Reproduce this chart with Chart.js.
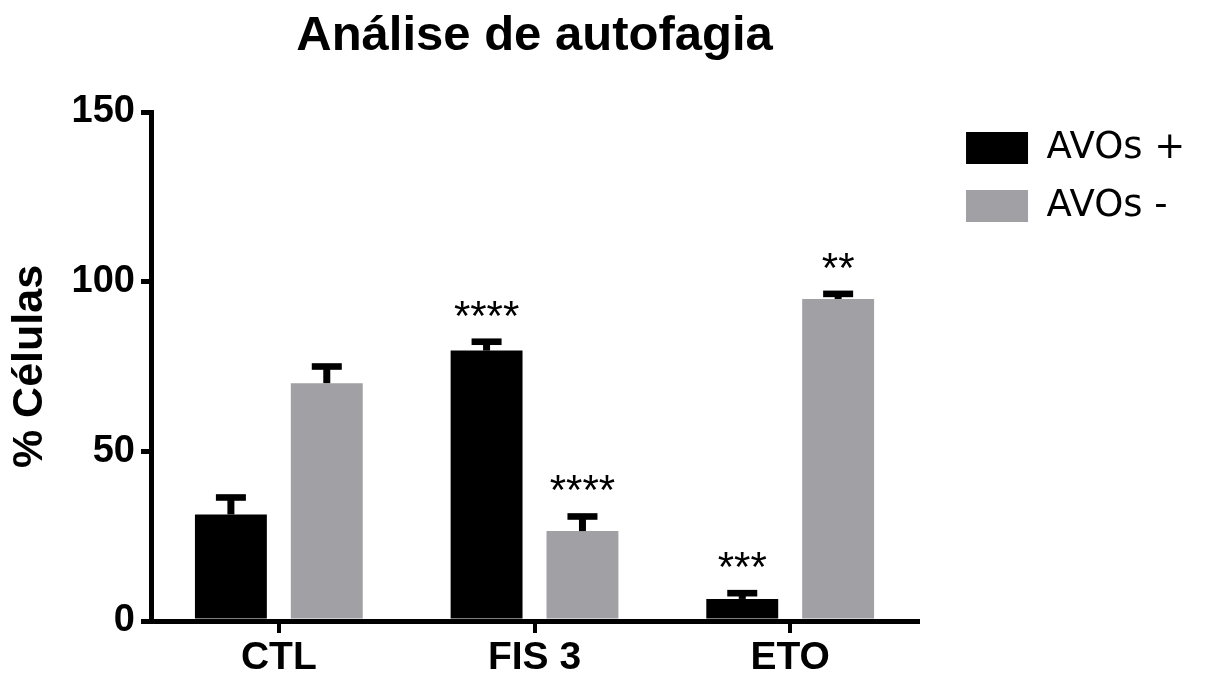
<!DOCTYPE html>
<html>
<head>
<meta charset="utf-8">
<script src="https://cdn.jsdelivr.net/npm/chart.js@4"></script>
<style>
  html, body { margin: 0; padding: 0; background: #ffffff; }
  #wrap { width: 1206px; height: 677px; position: relative; }
</style>
</head>
<body>
<div id="wrap"><canvas id="c" width="1206" height="677"></canvas></div>
<script>
// ---- data ----
const categories = ['CTL', 'FIS 3', 'ETO'];
const seriesNames = ['AVOs +', 'AVOs -'];
const avosPos = [31.4, 79.7, 6.5];
const avosPosErr = [5.0, 2.6, 1.7];
const avosNeg = [70.1, 26.5, 94.9];
const avosNegErr = [4.9, 4.3, 1.5];
const avosPosStars = ['', '****', '***'];
const avosNegStars = ['', '****', '**'];
const yMin = 0, yMax = 150, yStep = 50;
const chartTitle = 'Análise de autofagia';
const yTitle = '% Células';

const FONT = "'Liberation Sans', Arial, sans-serif";
const errs = [avosPosErr, avosNegErr];
const stars = [avosPosStars, avosNegStars];

const errorBarPlugin = {
  id: 'errorBars',
  afterDatasetsDraw(chart) {
    const ctx = chart.ctx;
    const yScale = chart.scales.y;
    ctx.save();
    chart.data.datasets.forEach((ds, i) => {
      const meta = chart.getDatasetMeta(i);
      meta.data.forEach((el, j) => {
        const v = ds.data[j];
        const e = errs[i][j];
        const capY = yScale.getPixelForValue(v + e);
        ctx.fillStyle = '#000';
        // stem
        ctx.fillRect(el.x - 3.5, capY, 7, el.y - capY);
        // cap
        ctx.fillRect(el.x - 15, capY - 3.3, 30, 6.6);
        const s = stars[i][j];
        if (s) {
          ctx.font = '42px ' + FONT;
          ctx.textAlign = 'center';
          ctx.textBaseline = 'alphabetic';
          ctx.fillText(s, el.x, capY - 12);
        }
      });
    });
    ctx.restore();
  }
};

new Chart(document.getElementById('c'), {
  type: 'bar',
  data: {
    labels: categories,
    datasets: [
      { label: seriesNames[0], data: avosPos, backgroundColor: '#000000', borderWidth: 0 },
      { label: seriesNames[1], data: avosNeg, backgroundColor: '#a1a0a5', borderWidth: 0 }
    ]
  },
  options: {
    responsive: false,
    animation: false,
    devicePixelRatio: 1,
    categoryPercentage: 0.75,
    barPercentage: 0.75,
    layout: { padding: { left: 0, right: 10.7, top: 0, bottom: 0 } },
    plugins: {
      title: {
        display: true,
        text: chartTitle,
        fullSize: false,
        color: '#000',
        font: { family: FONT, size: 49, weight: 'bold', lineHeight: 1.2 },
        padding: { top: 7.5, bottom: 45.7 }
      },
      legend: {
        display: true,
        position: 'right',
        align: 'start',
        fullSize: true,
        maxWidth: 320,
        title: { display: true, text: ' ', font: { size: 10, lineHeight: 1 }, padding: { top: 98.5, bottom: 0 } },
        labels: {
          boxWidth: 62,
          boxHeight: 32,
          padding: 21,
          color: '#000',
          font: { family: "'DejaVu Sans', sans-serif", size: 37 }
        }
      },
      tooltip: { enabled: false }
    },
    scales: {
      x: {
        grid: { offset: false, drawOnChartArea: false, drawTicks: true, tickLength: 12, lineWidth: 4, color: '#000' },
        border: { display: true, width: 5, color: '#000' },
        ticks: { color: '#000', padding: 5, font: { family: FONT, size: 39, weight: 'bold', lineHeight: 1.05 }, maxRotation: 0 },
        afterFit(s) { s.height = 56; }
      },
      y: {
        min: yMin, max: yMax,
        grid: { drawOnChartArea: false, drawTicks: true, tickLength: 10, lineWidth: 5, color: '#000' },
        border: { display: true, width: 5, color: '#000' },
        ticks: { stepSize: yStep, color: '#000', padding: 6, font: { family: FONT, size: 38, weight: 'bold' } },
        title: { display: true, text: yTitle, color: '#000', font: { family: FONT, size: 43, weight: 'bold', lineHeight: 1.2 }, padding: { top: 4.2, bottom: 6 } },
        afterFit(s) { s.width = 151; }
      },
      spacer: {
        type: 'linear',
        position: 'right',
        display: true,
        grid: { display: false, drawTicks: false },
        border: { display: false },
        ticks: { display: false },
        afterFit(s) { s.width = 27; }
      }
    }
  },
  plugins: [errorBarPlugin]
});
</script>
</body>
</html>
